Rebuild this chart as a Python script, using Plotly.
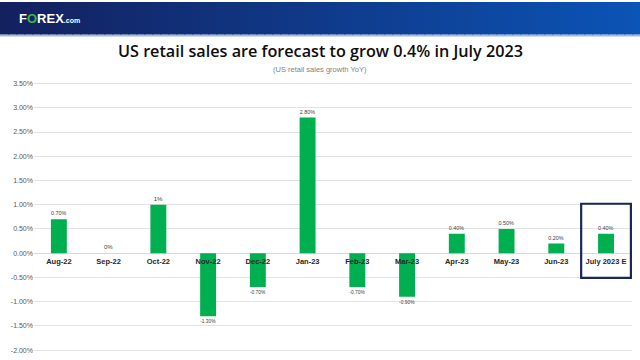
import plotly.graph_objects as go

categories = ["Aug-22", "Sep-22", "Oct-22", "Nov-22", "Dec-22", "Jan-23",
              "Feb-23", "Mar-23", "Apr-23", "May-23", "Jun-23", "July 2023 E"]
values = [0.70, 0.0, 1.0, -1.30, -0.70, 2.80, -0.70, -0.90, 0.40, 0.50, 0.20, 0.40]
value_labels = ["0.70%", "0%", "1%", "-1.30%", "-0.70%", "2.80%", "-0.70%",
                "-0.90%", "0.40%", "0.50%", "0.20%", "0.40%"]
y_ticks = [3.5, 3.0, 2.5, 2.0, 1.5, 1.0, 0.5, 0.0, -0.5, -1.0, -1.5, -2.0]
y_tick_labels = ["%.2f%%" % v for v in y_ticks]

W, H = 640, 360
fig = go.Figure()
fig.add_trace(go.Bar(
    x=categories, y=values, text=value_labels, textposition="outside",
    textfont=dict(size=6, color="#404040", family="Liberation Sans"),
    marker=dict(color="#00B050", line=dict(width=0)),
    width=0.32, cliponaxis=False, hoverinfo="skip",
))

# plot area geometry (pixels)
px_l, px_r = 34, 632
py_top, py_bot = 82.5, 352.0   # 3.5% and -2.0%
pad = 0.03
ppu = (py_bot - py_top) / 5.5
top = py_top - pad * ppu
bot = py_bot + pad * ppu
zero_px = py_top + 3.5 * ppu

shapes = []
# banner gradient
c0 = (20, 33, 95)
c1 = (12, 84, 182)
n = 80
for i in range(n):
    t = i / (n - 1)
    c = tuple(int(c0[k] + (c1[k] - c0[k]) * t) for k in range(3))
    shapes.append(dict(type="rect", xref="paper", yref="paper",
                       x0=i / n, x1=(i + 1) / n + 0.002, y0=1 - 33 / H, y1=1,
                       fillcolor="rgb(%d,%d,%d)" % c, line=dict(width=0), layer="below"))
shapes.append(dict(type="rect", xref="paper", yref="paper", x0=0, x1=1,
                   y0=1 - 35 / H, y1=1 - 33 / H, fillcolor="#9fb8e6",
                   line=dict(width=0), layer="below"))
# highlight box
shapes.append(dict(type="rect", xref="x", yref="y", x0=10.5, x1=11.5,
                   y0=-0.51, y1=1.02, line=dict(color="#1b2857", width=2.2),
                   fillcolor="rgba(0,0,0,0)"))

fig.update_layout(
    width=W, height=H, margin=dict(l=0, r=0, t=0, b=0),
    paper_bgcolor="white", plot_bgcolor="white", showlegend=False,
    bargap=0.68, shapes=shapes,
    xaxis=dict(domain=[px_l / W, px_r / W], type="category",
               anchor="free", position=1 - zero_px / H,
               showline=False, ticks="", showgrid=False,
               tickfont=dict(size=7.5, color="#262626", family="Liberation Sans", weight="bold"),
               ticklabelstandoff=2),
    yaxis=dict(domain=[1 - bot / H, 1 - top / H], range=[-2.0 - pad, 3.5 + pad],
               tickvals=y_ticks, ticktext=y_tick_labels,
               tickfont=dict(size=7, color="#595959", family="Liberation Sans"),
               showgrid=True, gridcolor="#e3e3e3", gridwidth=1,
               zeroline=True, zerolinecolor="#d9d9d9", zerolinewidth=1,
               showline=False, ticks=""),
    annotations=[
        dict(text="<b>F<span style='color:#39b54a'>O</span>REX</b><span style='font-size:7px'><b>.com</b></span>",
             xref="paper", yref="paper", x=17 / W, y=1 - 16.5 / H, xanchor="left", yanchor="middle",
             showarrow=False, font=dict(size=13, color="white", family="Liberation Sans")),
        dict(text="US retail sales are forecast to grow 0.4% in July 2023",
             xref="paper", yref="paper", x=0.5, y=1 - 50 / H, xanchor="center", yanchor="middle",
             showarrow=False, font=dict(size=16.2, color="#0d0d0d", family="Open Sans", weight=600)),
        dict(text="(US retail sales growth YoY)",
             xref="paper", yref="paper", x=0.5, y=1 - 68 / H, xanchor="center", yanchor="middle",
             showarrow=False, font=dict(size=7.5, color="#7f7f7f", family="Liberation Sans")),
    ],
)
fig.write_html("out.html", config={"displayModeBar": False},
               post_script="document.body.style.margin='0';document.body.style.overflow='hidden';")
